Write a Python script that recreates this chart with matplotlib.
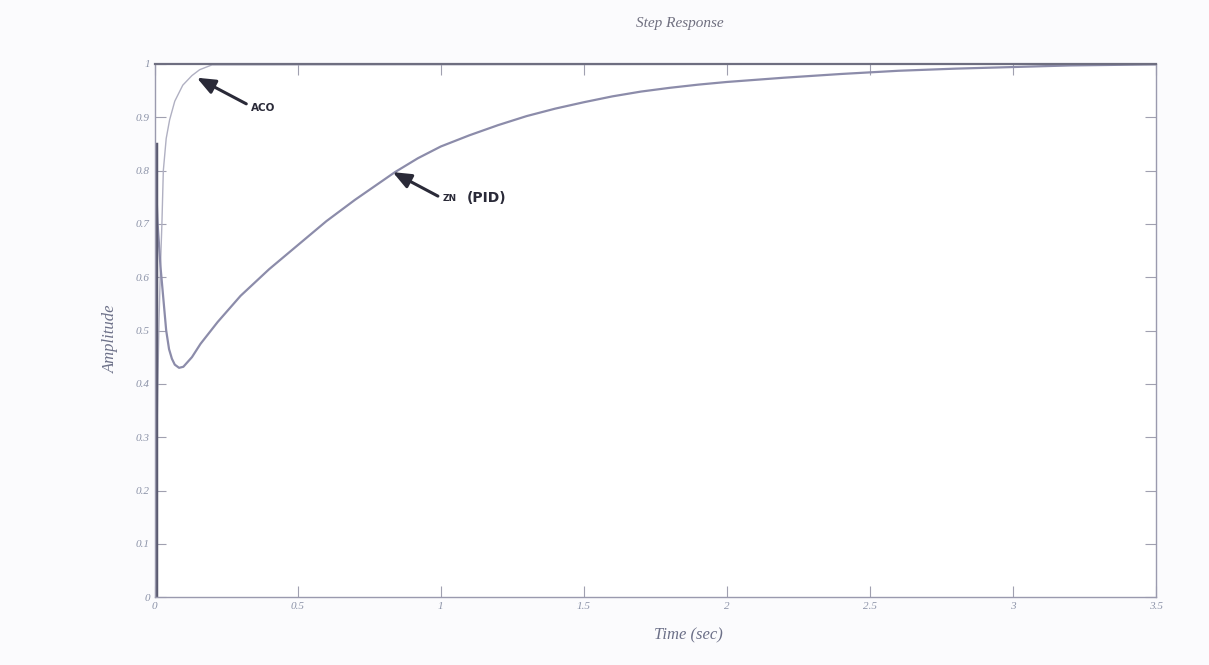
import numpy as np
import matplotlib.pyplot as plt

# Step response values
t_zn = [0.0, 0.001, 0.005, 0.01, 0.02, 0.03, 0.04, 0.05, 0.06, 0.07, 0.085,
        0.1, 0.13, 0.16, 0.22, 0.3, 0.4, 0.5, 0.6, 0.7, 0.84, 0.92, 1.0,
        1.1, 1.2, 1.3, 1.4, 1.5, 1.6, 1.7, 1.8, 1.9, 2.0, 2.2, 2.4, 2.6,
        2.8, 3.0, 3.2, 3.5]
y_zn = [0.0, 0.85, 0.77, 0.7, 0.62, 0.56, 0.5, 0.465, 0.447, 0.436, 0.43,
        0.432, 0.45, 0.475, 0.516, 0.565, 0.615, 0.66, 0.705, 0.745, 0.797,
        0.823, 0.845, 0.866, 0.885, 0.902, 0.916, 0.928, 0.939, 0.948,
        0.955, 0.961, 0.966, 0.974, 0.981, 0.987, 0.991, 0.994, 0.997,
        0.999]

t_aco = [0.0, 0.005, 0.01, 0.015, 0.02, 0.025, 0.03, 0.04, 0.052, 0.07,
         0.098, 0.13, 0.157, 0.2, 3.5]
y_aco = [0.0, 0.2, 0.38, 0.52, 0.62, 0.7, 0.8, 0.86, 0.895, 0.93,
         0.96, 0.978, 0.989, 0.998, 1.0]

# dark initial spike of the ZN response
t_spike = [0.003, 0.003]
y_spike = [0.0, 0.85]

x_ticks = [0, 0.5, 1, 1.5, 2, 2.5, 3, 3.5]
x_labels = ["0", "0.5", "1", "1.5", "2", "2.5", "3", "3.5"]
y_ticks = [0, 0.1, 0.2, 0.3, 0.4, 0.5, 0.6, 0.7, 0.8, 0.9, 1]
y_labels = ["0", "0.1", "0.2", "0.3", "0.4", "0.5", "0.6", "0.7", "0.8", "0.9", "1"]

serif = ["Liberation Serif", "DejaVu Serif"]
tick_col = "#8c93a8"

fig = plt.figure(figsize=(12.09, 6.65), dpi=100)
fig.patch.set_facecolor("#fbfbfd")
ax = fig.add_axes([0.128, 0.102, 0.828, 0.802])
ax.set_facecolor("white")

ax.plot(t_aco, y_aco, color="#b0b0c2", lw=1.0)
ax.plot(t_zn, y_zn, color="#8c8caa", lw=1.6)
ax.plot(t_spike, y_spike, color="#5a5a70", lw=2.5)

ax.set_xlim(0, 3.5)
ax.set_ylim(0, 1)
ax.set_xticks(x_ticks)
ax.set_xticklabels(x_labels)
ax.set_yticks(y_ticks)
ax.set_yticklabels(y_labels)
ax.tick_params(direction="in", length=8, width=0.8, color="#a0a0b0",
               top=True, right=True, labelsize=8, labelcolor=tick_col)
for lab in ax.get_xticklabels() + ax.get_yticklabels():
    lab.set_family(serif)
    lab.set_style("italic")
for side in ["left", "bottom", "right"]:
    ax.spines[side].set_color("#9a9aae")
    ax.spines[side].set_linewidth(1.0)
ax.spines["top"].set_color("#6e6e80")
ax.spines["top"].set_linewidth(1.6)

fig.text(0.562, 0.975, "Step Response", ha="center", va="top",
         family=serif, style="italic", fontsize=11, color="#707080")
fig.text(0.569, 0.045, "Time (sec)", ha="center", va="center",
         family=serif, style="italic", fontsize=12, color="#6c7088")
fig.text(0.092, 0.49, "Amplitude", ha="center", va="center", rotation=90,
         family=serif, style="italic", fontsize=12, color="#6c7088")

arrow = dict(arrowstyle="-|>,head_width=0.45,head_length=1.1",
             color="#2a2a38", lw=2.2, shrinkA=0, shrinkB=0)
ax.annotate("", xy=(0.147, 0.974), xytext=(0.32, 0.925), arrowprops=arrow)
ax.text(0.335, 0.918, "ACO", fontsize=7.5, fontweight="bold",
        color="#2a2a38", va="center", ha="left")
ax.annotate("", xy=(0.832, 0.797), xytext=(0.99, 0.752), arrowprops=arrow)
ax.text(1.005, 0.748, "ZN", fontsize=6.5, fontweight="bold",
        color="#2a2a38", va="center", ha="left")
ax.text(1.09, 0.748, "(PID)", fontsize=10, fontweight="bold",
        color="#2a2a38", va="center", ha="left")

fig.savefig("out.png", dpi=100, facecolor=fig.get_facecolor())
